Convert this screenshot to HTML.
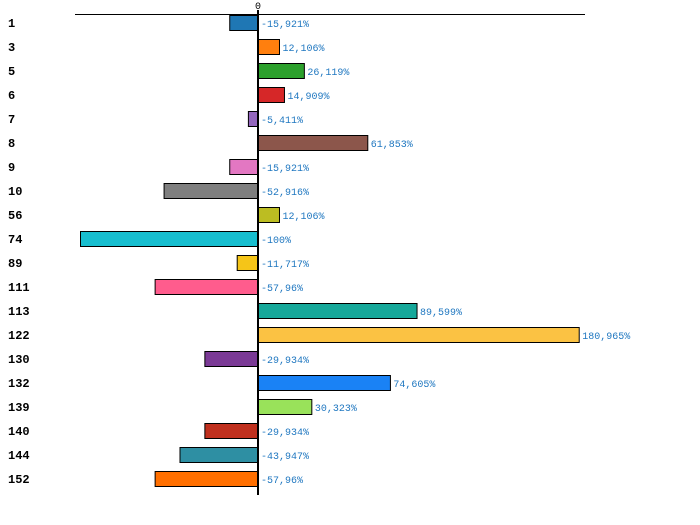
<!DOCTYPE html>
<html><head><meta charset="utf-8"><style>
body{margin:0;background:#fff;width:700px;height:525px;overflow:hidden}
svg{display:block}
.cat{font:bold 12px "Liberation Mono",monospace;fill:#000}
.val{font:10px "Liberation Mono",monospace;fill:#1f77c0}
</style></head><body>
<svg id="c" width="700" height="525"></svg>
<script>
const categories=["1","3","5","6","7","8","9","10","56","74","89","111","113","122","130","132","139","140","144","152"];
const values=[-15.921,12.106,26.119,14.909,-5.411,61.853,-15.921,-52.916,12.106,-100,-11.717,-57.96,89.599,180.965,-29.934,74.605,30.323,-29.934,-43.947,-57.96];
const colors=["#1f77b4","#ff7f0e","#2ca02c","#d62728","#9467bd","#8c564b","#e377c2","#7f7f7f","#bcbd22","#17becf","#f5c518","#ff5c8d","#16a89a","#fbc243","#7b3a96","#1a82f5","#99e25a","#c0301e","#2e8fa3","#ff6f00"];
const svgEl=document.getElementById('c');
const NS="http://www.w3.org/2000/svg";
const x0=258, scale=1.775;
const xs=v=>x0+v*scale;
const ys=i=>23+i*24;
function mk(t,a){const e=document.createElementNS(NS,t);for(const k in a)e.setAttribute(k,a[k]);svgEl.appendChild(e);return e;}
const topLine=mk('line',{x1:75,y1:14.5,x2:585,y2:14.5,stroke:'#000','stroke-width':1,'shape-rendering':'crispEdges'});


const zl=mk('text',{x:258,y:9,'text-anchor':'middle',class:'val',style:'fill:#000;font-size:10px'});zl.textContent='0';


categories.forEach((c,i)=>{
  const v=values[i];
  const a=xs(Math.min(0,v)),b=xs(Math.max(0,v));
  const r=mk('rect',{x:a,y:ys(i)-7.5,width:b-a,height:15,fill:colors[i],stroke:'#000','stroke-width':1});
  
  
  const l=mk('text',{x:8,y:ys(i)+4,class:'cat'});l.textContent=c;
  
  
  const t=mk('text',{x:(v>0?b:x0)+3,y:ys(i)+4,class:'val'});
  t.textContent=String(v).replace('.',',')+'%';
  
  
});
const ax=mk('line',{x1:258,y1:10,x2:258,y2:495,stroke:'#000','stroke-width':2});


</script>
</body></html>
